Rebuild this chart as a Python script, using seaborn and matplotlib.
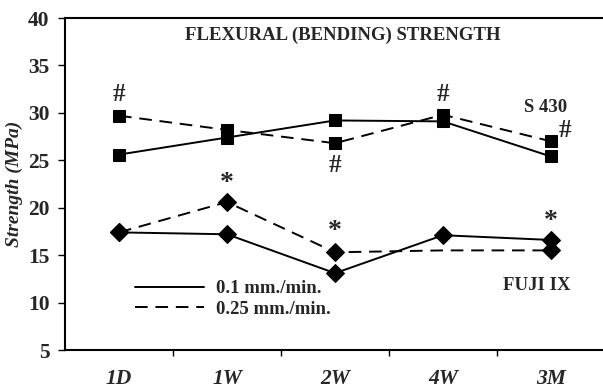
import matplotlib
matplotlib.use("Agg")
import matplotlib.pyplot as plt
import seaborn as sns
import pandas as pd
from matplotlib.lines import Line2D

sns.set_theme(style="white")
plt.rcParams['font.family'] = ['Liberation Serif', 'DejaVu Serif']
plt.rcParams['font.weight'] = 'bold'

categories = ["1D", "1W", "2W", "4W", "3M"]
s430_slow = [25.6, 27.4, 29.2, 29.1, 25.4]
s430_fast = [29.7, 28.2, 26.8, 29.8, 27.0]
fuji_slow = [17.4, 17.2, 13.1, 17.1, 16.6]
fuji_fast = [17.4, 20.6, 15.3, 15.5, 15.5]
legend_labels = ["0.1 mm./min.", "0.25 mm./min."]
yticks = [5, 10, 15, 20, 25, 30, 35, 40]

xs = list(range(len(categories)))
df = pd.DataFrame({
    "x": xs * 4,
    "y": s430_slow + s430_fast + fuji_slow + fuji_fast,
    "series": ["s430_slow"] * 5 + ["s430_fast"] * 5 + ["fuji_slow"] * 5 + ["fuji_fast"] * 5,
})

fig = plt.figure(figsize=(6.03, 3.92), dpi=100)
ax = fig.add_axes([65 / 603, 1 - 350 / 392, 540 / 603, 332 / 392])

dash = (6.5, 4)
styles = {
    "s430_slow": dict(marker="s", markersize=8.5, linestyle="-"),
    "s430_fast": dict(marker="s", markersize=8.5, dashes=dash),
    "fuji_slow": dict(marker="D", markersize=9.5, linestyle="-"),
    "fuji_fast": dict(marker="D", markersize=9.5, dashes=dash, markevery=[0, 1, 2, 4]),
}
for name, st in styles.items():
    sub = df[df["series"] == name]
    sns.lineplot(data=sub, x="x", y="y", ax=ax, color="black", linewidth=1.4,
                 markeredgecolor="black", sort=False, legend=False, **st)

ax.set_xlim(-0.5, 4.5)
ax.set_ylim(5, 40)
ax.set_yticks(yticks)
ax.set_yticklabels([str(t) for t in yticks], fontsize=15.5, fontweight="bold")
ax.set_xticks([0.5, 1.5, 2.5, 3.5])
ax.set_xticklabels([])
ax.set_xticks(xs, minor=True)
ax.set_xticklabels(categories, minor=True, fontsize=15.5, fontweight="bold", style="italic")
ax.tick_params(axis="x", which="minor", length=0, pad=14)
ax.tick_params(axis="x", which="major", direction="out", length=4, width=1, color="black", bottom=True)
ax.tick_params(axis="y", direction="out", length=5, width=1, color="black", left=True, pad=6)
ax.set_xlabel("")
ax.set_ylabel("Strength (MPa)", fontsize=14, fontweight="bold", style="italic", labelpad=4)

for side in ["left", "bottom", "top"]:
    ax.spines[side].set_color("black")
    ax.spines[side].set_linewidth(1.5)
ax.spines["right"].set_visible(False)

ax.text(2.07, 38.2, "FLEXURAL (BENDING) STRENGTH", ha="center", va="center", fontsize=13.5, fontweight="bold")
ax.text(3.95, 30.6, "S 430", ha="center", va="center", fontsize=13.5, fontweight="bold")
ax.text(3.87, 11.8, "FUJI IX", ha="center", va="center", fontsize=13.5, fontweight="bold")

hash_marks = [(0, 31.9), (3, 31.9), (2, 24.5), (4.13, 28.1)]
for hx, hy in hash_marks:
    ax.text(hx, hy, "#", ha="center", va="center", fontsize=18, fontweight="bold")
star_marks = [(1, 22.6), (2, 17.5), (4, 18.5)]
for sx, sy in star_marks:
    ax.text(sx, sy, "*", ha="center", va="center", fontsize=20, fontweight="bold")

handles = [Line2D([], [], color="black", lw=1.4, linestyle="-"),
           Line2D([], [], color="black", lw=1.4, dashes=dash)]
leg = ax.legend(handles, legend_labels, loc="upper left",
                bbox_to_anchor=(135 / 603, 1 - 280 / 392), bbox_transform=fig.transFigure,
                frameon=False, borderpad=0, borderaxespad=0, handlelength=3.7,
                handletextpad=0.6, labelspacing=0.2,
                prop={"family": "Liberation Serif", "weight": "bold", "size": 13.5})

fig.savefig("out.png", dpi=100)
